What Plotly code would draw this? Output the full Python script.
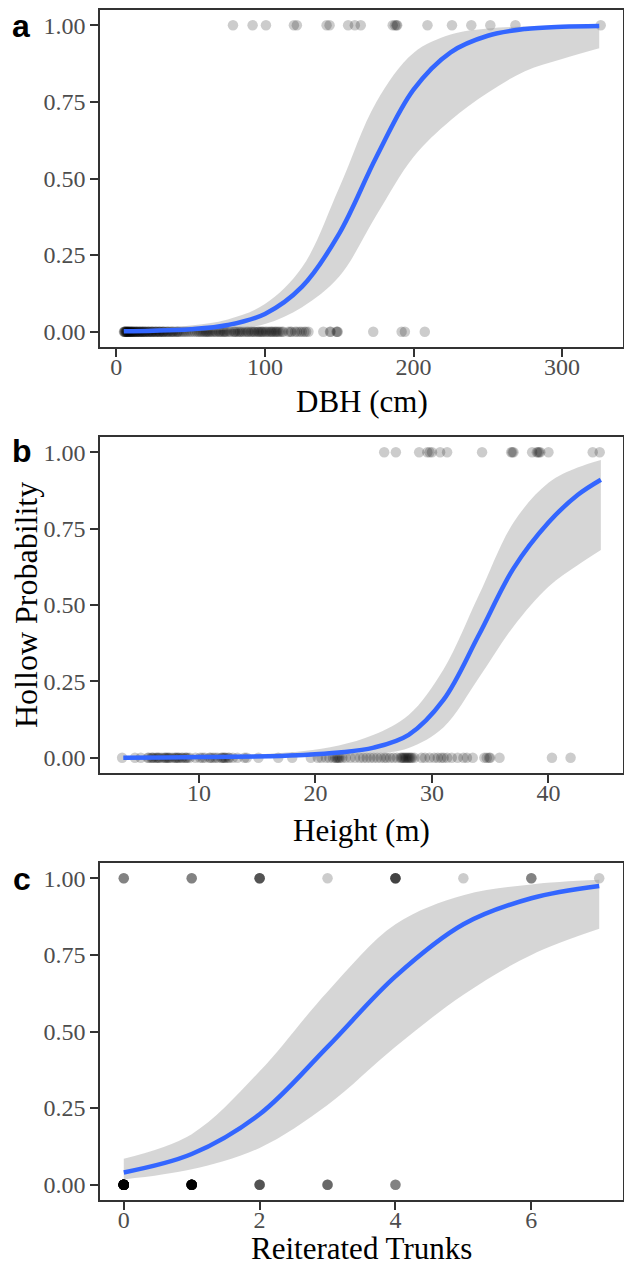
import numpy as np
import plotly.graph_objects as go

W, H = 624, 1265

# ---------------- Panel a : DBH ----------------
dbh_hollow = [78.5, 91.7, 100.7, 119.5, 121.5, 141.5, 143.5, 156.0, 160.5, 164.5,
              186.0, 187.5, 188.5, 189.0, 209.4, 225.9, 238.9, 251.7, 268.6, 326.0]
dbh_sound = [5.1, 5.4, 5.6, 5.8, 6.2, 6.5, 6.7, 6.9, 7.3, 7.6, 7.9, 8.0, 8.4, 8.9, 9.1, 9.3,
             9.8, 10.2, 10.5, 10.7, 11.1, 11.6, 12.0, 12.3, 12.8, 13.4, 13.7, 14.0, 14.5, 15.2,
             15.6, 15.9, 16.4, 17.1, 17.5, 17.8, 18.3, 19.0, 19.4, 19.8, 20.5, 21.3, 21.7, 22.0,
             22.9, 23.6, 24.0, 24.4, 25.1, 26.0, 26.5, 26.9, 27.7, 28.6, 29.0, 29.4, 30.3, 31.2,
             31.6, 32.0, 33.1, 34.0, 34.6, 35.2, 36.3, 37.1, 37.8, 38.4, 39.5, 40.6, 41.2, 41.8,
             43.0, 44.3, 45.5, 46.8, 48.1, 49.6, 51.0, 52.7, 54.2,
             55.3, 56.4, 57.4, 58.5, 59.6, 60.4, 61.2, 62.1, 63.0, 64.1, 65.2, 66.5, 67.3, 68.9,
             69.6, 70.5, 71.8, 72.6, 73.3, 74.4, 75.9, 77.0, 78.9, 79.6, 80.2, 81.5, 82.6, 83.4,
             84.5, 85.7, 87.1, 88.2, 89.0, 90.4, 91.3, 92.5, 93.2, 94.6, 95.5, 96.3, 97.4, 98.1,
             99.0, 100.3, 101.2, 102.4, 103.5, 104.4, 105.1, 106.3, 107.2, 108.0, 109.0, 110.1,
             111.4, 112.3, 115.8, 117.1, 118.0, 120.3, 121.6, 123.4, 124.8, 126.5, 127.7, 129.3,
             139.3, 143.8, 144.2, 148.2, 148.6, 149.0,
             172.9, 192.0, 194.2, 207.6]
dbh_grid = [5, 25, 50, 75, 100, 125, 150, 175, 200, 225, 250, 275, 300, 325]
dbh_fit = [0.0013, 0.003, 0.008, 0.022, 0.058, 0.147, 0.32, 0.57, 0.79, 0.912, 0.966,
           0.988, 0.9955, 0.998]
dbh_hi = [0.006, 0.01, 0.02, 0.04, 0.09, 0.21, 0.47, 0.75, 0.91, 0.97, 0.99, 0.996,
          0.998, 0.999]
dbh_lo = [0.0003, 0.0008, 0.002, 0.007, 0.025, 0.08, 0.18, 0.38, 0.57, 0.69, 0.78, 0.85,
          0.89, 0.925]

# ---------------- Panel b : Height ----------------
ht_hollow = [25.9, 26.9, 28.9, 29.6, 29.8, 30.0, 30.7, 31.3, 34.3, 36.8, 36.9, 37.0,
             38.6, 39.0, 39.1, 39.2, 39.3, 40.0, 43.8, 44.4]
ht_sound = [3.4, 4.5, 5.0,
            5.6, 5.7, 5.9, 6.0, 6.1, 6.3, 6.4, 6.5, 6.6, 6.8, 7.0, 7.1, 7.2, 7.3, 7.4, 7.5,
            7.7, 7.9, 8.0, 8.1, 8.2, 8.3, 8.5, 8.6, 8.8, 8.9, 9.0, 9.2,
            9.7, 10.1, 10.3, 10.5, 10.9, 11.0, 11.2, 11.4, 11.6, 11.9, 12.0, 12.1, 12.2, 12.3,
            12.5, 12.6, 12.9, 13.3, 13.9, 14.1,
            15.1, 16.8, 18.0,
            19.6, 20.2, 20.5, 20.9, 21.2, 21.5, 21.7, 21.8, 21.9, 22.0, 22.1, 22.3, 22.6, 23.0,
            23.4, 23.8, 24.1, 24.4, 24.7, 25.0, 25.3, 25.6, 25.9, 26.1, 26.4, 26.7, 27.0,
            27.3, 27.4, 27.5, 27.6, 27.7, 27.8, 27.9, 28.0, 28.1, 28.2, 28.3, 28.5,
            29.1, 29.4, 29.8, 30.2, 30.5, 30.8, 31.0, 31.3, 31.7, 32.2, 32.7, 33.0, 33.5,
            34.5, 34.7, 34.9, 35.0, 35.8,
            40.3, 41.9]
ht_grid = [3.5, 7, 10, 13, 16, 19, 22, 25, 28, 31, 34, 37, 40, 42.5, 44.5]
ht_fit = [0.0, 0.001, 0.002, 0.003, 0.005, 0.009, 0.017, 0.033, 0.075, 0.19, 0.40, 0.62,
          0.77, 0.86, 0.91]
ht_hi = [0.002, 0.003, 0.005, 0.008, 0.013, 0.022, 0.04, 0.075, 0.14, 0.29, 0.53, 0.77,
         0.90, 0.95, 0.975]
ht_lo = [0.0, 0.0, 0.0003, 0.0006, 0.001, 0.002, 0.005, 0.012, 0.032, 0.10, 0.26, 0.43,
         0.56, 0.63, 0.68]

# ---------------- Panel c : Reiterated trunks ----------------
rt_values = [0, 1, 2, 3, 4, 5, 6, 7]
rt_hollow_counts = [3, 3, 5, 1, 6, 1, 3, 1]
rt_sound_counts = [40, 20, 5, 4, 3, 0, 0, 0]
rt_grid = [0, 1, 2, 3, 4, 5, 6, 7]
rt_fit = [0.04, 0.10, 0.23, 0.45, 0.68, 0.85, 0.935, 0.975]
rt_hi = [0.085, 0.165, 0.37, 0.63, 0.85, 0.945, 0.98, 0.995]
rt_lo = [0.017, 0.05, 0.12, 0.26, 0.45, 0.62, 0.75, 0.835]

y_ticks = [0, 0.25, 0.5, 0.75, 1.0]
y_ticktext = ["0.00", "0.25", "0.50", "0.75", "1.00"]

fig = go.Figure()

PT = dict(size=10.5, color="rgba(0,0,0,0.2)", line=dict(width=0))


def add_panel(n, xs_hollow, xs_sound, grid, fit, lo, hi):
    xa = "x" if n == 1 else f"x{n}"
    ya = "y" if n == 1 else f"y{n}"
    xs = list(xs_sound) + list(xs_hollow)
    ys = [0] * len(xs_sound) + [1] * len(xs_hollow)
    fig.add_trace(go.Scatter(x=xs, y=ys, mode="markers", marker=PT,
                             xaxis=xa, yaxis=ya, showlegend=False, hoverinfo="skip"))
    fig.add_trace(go.Scatter(x=grid, y=lo, mode="lines", line=dict(width=0, shape="spline"),
                             xaxis=xa, yaxis=ya, showlegend=False, hoverinfo="skip"))
    fig.add_trace(go.Scatter(x=grid, y=hi, mode="lines", line=dict(width=0, shape="spline"),
                             fill="tonexty", fillcolor="rgba(153,153,153,0.4)",
                             xaxis=xa, yaxis=ya, showlegend=False, hoverinfo="skip"))
    fig.add_trace(go.Scatter(x=grid, y=fit, mode="lines",
                             line=dict(color="#3366FF", width=4.5, shape="spline"),
                             xaxis=xa, yaxis=ya, showlegend=False, hoverinfo="skip"))


add_panel(1, dbh_hollow, dbh_sound, dbh_grid, dbh_fit, dbh_lo, dbh_hi)
add_panel(2, ht_hollow, ht_sound, ht_grid, ht_fit, ht_lo, ht_hi)
rt_h = list(np.repeat(rt_values, rt_hollow_counts))
rt_s = list(np.repeat(rt_values, rt_sound_counts))
add_panel(3, rt_h, rt_s, rt_grid, rt_fit, rt_lo, rt_hi)


def px_x(p):
    return p / W


def px_y(p):
    return 1 - p / H


AX = dict(showline=True, mirror=True, linecolor="#333333", linewidth=1.5,
          ticks="outside", ticklen=8, tickwidth=1.8, tickcolor="#333333",
          showgrid=False, zeroline=False,
          tickfont=dict(family="Liberation Serif", size=24, color="#4D4D4D"))

x_dom = [px_x(100), px_x(623)]
panels = [(10, 347), (437, 773), (863, 1200)]
x_ranges = [[-11, 341], [1.5, 46.4], [-0.35, 7.35]]
x_tickvals = [[0, 100, 200, 300], [10, 20, 30, 40], [0, 2, 4, 6]]

lay = {}
for i, ((top, bot), xr, tv) in enumerate(zip(panels, x_ranges, x_tickvals), start=1):
    sx = "xaxis" if i == 1 else f"xaxis{i}"
    sy = "yaxis" if i == 1 else f"yaxis{i}"
    lay[sx] = dict(AX, domain=x_dom, range=xr, tickvals=tv, ticklabelstandoff=-11,
                   anchor="y" if i == 1 else f"y{i}")
    lay[sy] = dict(AX, domain=[px_y(bot), px_y(top)], range=[-0.05, 1.05],
                   tickvals=y_ticks, ticktext=y_ticktext,
                   anchor="x" if i == 1 else f"x{i}")

ann = []
for lab, (x, y) in zip(["a", "b", "c"], [(21, 26), (22, 451), (22, 879)]):
    ann.append(dict(text=lab, x=px_x(x), y=px_y(y), xref="paper", yref="paper",
                    xanchor="center", yanchor="middle", showarrow=False,
                    font=dict(family="Liberation Sans", size=32, color="black", weight="bold")))
for lab, y in zip(["DBH (cm)", "Height (m)", "Reiterated Trunks"], [402, 830, 1248]):
    ann.append(dict(text=lab, x=px_x(361.5), y=px_y(y), xref="paper", yref="paper",
                    xanchor="center", yanchor="middle", showarrow=False,
                    font=dict(family="Liberation Serif", size=31, color="black")))
ann.append(dict(text="Hollow Probability", x=px_x(26), y=px_y(605), xref="paper", yref="paper",
                xanchor="center", yanchor="middle", showarrow=False, textangle=-90,
                font=dict(family="Liberation Serif", size=32, color="black")))

fig.update_layout(width=W, height=H, margin=dict(l=0, r=0, t=0, b=0),
                  paper_bgcolor="white", plot_bgcolor="white",
                  annotations=ann, **lay)

fig.write_html("out.html", config={"displayModeBar": False},
               post_script="document.body.style.margin='0px';"
                           "document.body.style.overflow='hidden';")
